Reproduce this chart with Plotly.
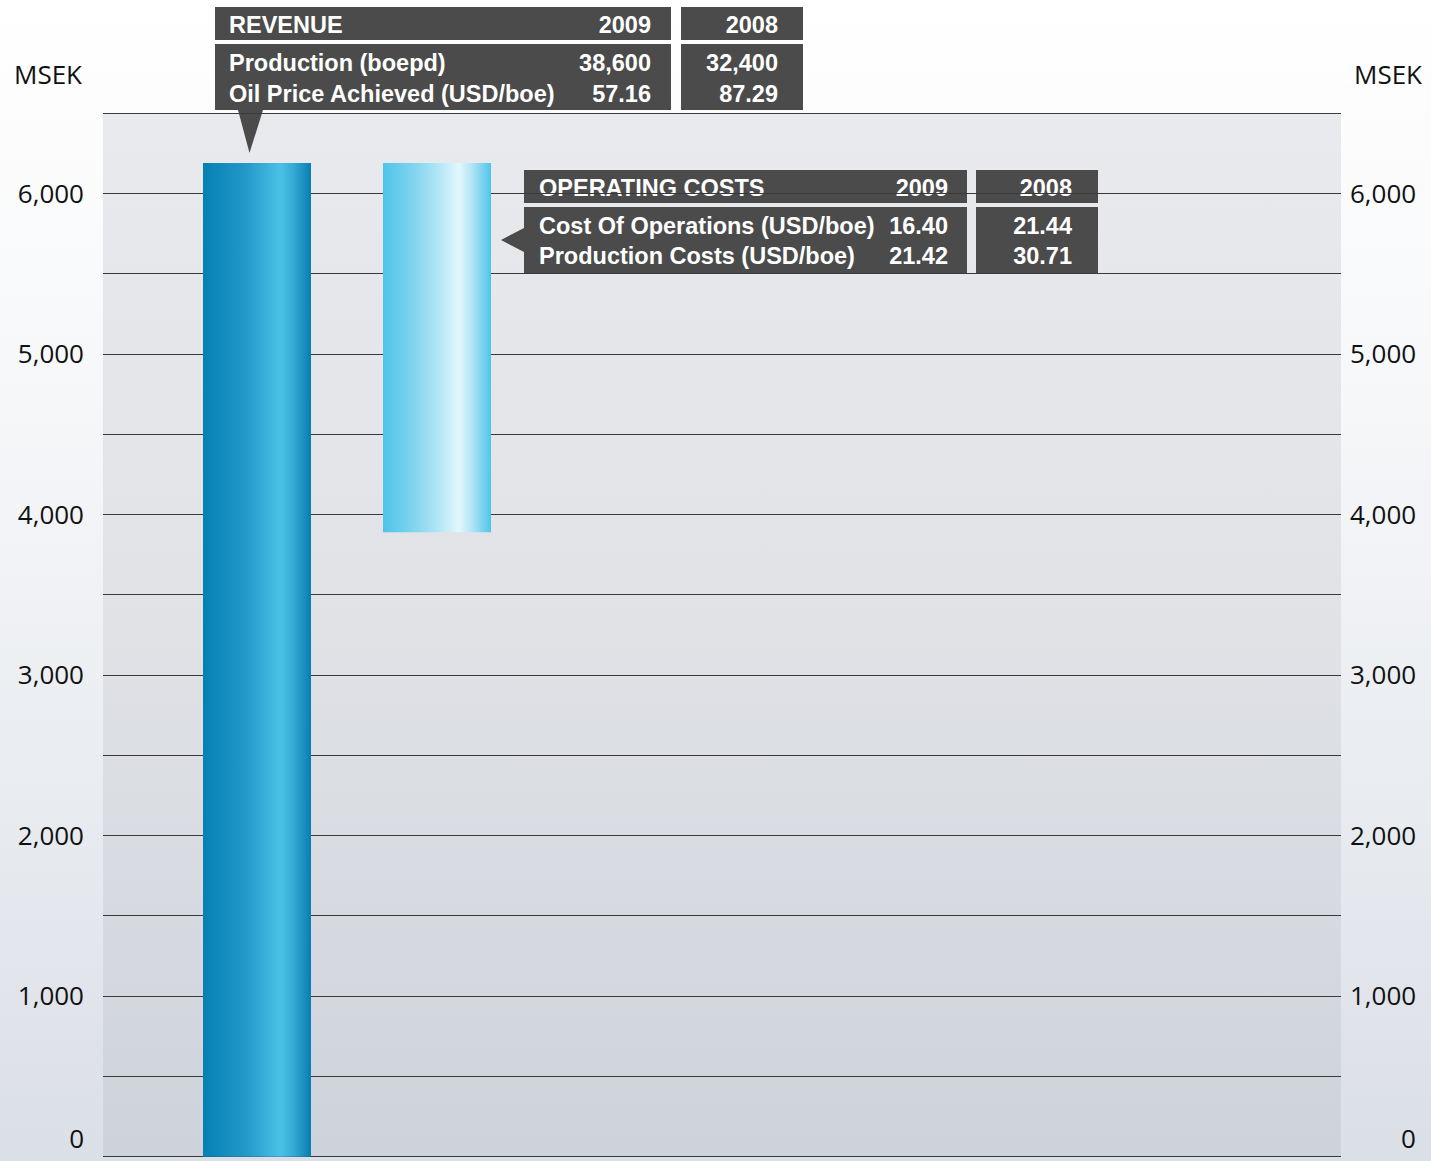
import plotly.graph_objects as go

W, H = 1431, 1161

# ---- data -------------------------------------------------------------
categories = ["Revenue", "Operating costs"]
revenue_msek = 6190
operating_costs_msek = 2300

y_ticks = list(range(0, 6501, 500))
# the baseline label is drawn separately so that it sits on top of the bottom line
y_labels = [f"{v:,}" if v % 1000 == 0 and 0 < v <= 6000 else "" for v in y_ticks]
base_tick = [0]
base_label = ["0"]

years = ["2009", "2008"]
revenue_rows = ["Production (boepd)", "Oil Price Achieved (USD/boe)"]
revenue_2009 = ["38,600", "57.16"]
revenue_2008 = ["32,400", "87.29"]
opcost_rows = ["Cost Of Operations (USD/boe)", "Production Costs (USD/boe)"]
opcost_2009 = ["16.40", "21.42"]
opcost_2008 = ["21.44", "30.71"]

# waterfall: each step starts where the previous one ended
bar_bottoms = [0, revenue_msek - operating_costs_msek]
bar_tops = [revenue_msek, revenue_msek]

# ---- layout geometry (page pixels) -----------------------------------
PLOT_L, PLOT_R, PLOT_T, PLOT_B = 103, 1341, 113.3, 1156.7
Y_MIN, Y_MAX = -16, 6516         # a little beyond 0..6500 so both edge grid lines render
BAR_W = 0.6
X_LEFT = -154 / 180
X_RIGHT = X_LEFT + (PLOT_R - PLOT_L) / 180

BOX = "#4b4b4b"
WHITE_BOLD = dict(family="Liberation Sans, Arial, sans-serif", size=23.5, color="white", weight="bold")
AXIS_FONT = dict(family="Open Sans, sans-serif", size=26, color="#111111")

fig = go.Figure()

# ---- background layer (page coordinates, subplot x/y) ----------------
def poly(xs, ys, **kw):
    fig.add_trace(go.Scatter(x=xs + [xs[0]], y=ys + [ys[0]], mode="lines", fill="toself",
                             line=dict(width=0), hoverinfo="skip", showlegend=False,
                             xaxis="x", yaxis="y", **kw))

def rect(x0, y0, x1, y1, color):
    poly([x0, x1, x1, x0], [y0, y0, y1, y1], fillcolor=color)

# page gradient (scale runs bottom -> top)
poly([0, W, W, 0], [0, 0, H, H],
     fillgradient=dict(type="vertical",
                       colorscale=[[0, "#dbdfe6"], [0.35, "#eaedf1"], [0.65, "#f6f7f9"], [1, "#ffffff"]]))
# plot-area gradient (scale runs bottom -> top)
poly([PLOT_L, PLOT_R, PLOT_R, PLOT_L], [PLOT_T, PLOT_T, PLOT_B, PLOT_B],
     fillgradient=dict(type="vertical",
                       colorscale=[[0, "#ced2da"], [0.5, "#e0e2e6"], [1, "#e9eaed"]]))

# revenue info table
rect(215, 7, 671, 40, BOX)
rect(681, 7, 803, 40, BOX)
rect(215, 44, 671, 110, BOX)
rect(681, 44, 803, 110, BOX)
poly([238, 263, 249.5], [110, 110, 153], fillcolor=BOX)

# operating-costs info table
rect(524, 170, 967, 203, BOX)
rect(976, 170, 1098, 203, BOX)
rect(524, 207, 967, 273, BOX)
rect(976, 207, 1098, 273, BOX)
poly([524, 524, 501], [228, 252, 240], fillcolor=BOX)

def txt(x, y, s, pos):
    fig.add_trace(go.Scatter(x=x, y=y, text=s, mode="text", textposition=pos,
                             textfont=WHITE_BOLD, hoverinfo="skip", showlegend=False,
                             cliponaxis=False, xaxis="x", yaxis="y"))

# revenue table text
txt([229], [27], ["REVENUE"], "middle right")
txt([651, 778], [27, 27], years, "middle left")
txt([229, 229], [65, 96], revenue_rows, "middle right")
txt([651, 651], [65, 96], revenue_2009, "middle left")
txt([778, 778], [65, 96], revenue_2008, "middle left")

# operating-costs table text
txt([539], [190], ["OPERATING COSTS"], "middle right")
txt([948, 1072], [190, 190], years, "middle left")
txt([539, 539], [228, 258], opcost_rows, "middle right")
txt([948, 948], [228, 258], opcost_2009, "middle left")
txt([1072, 1072], [228, 258], opcost_2008, "middle left")

# ---- waterfall bars (data coordinates, subplot x2/y2) ----------------
bar_scales = [
    [[0, "#0580b2"], [0.4, "#2399c9"], [0.72, "#4ac2e7"], [0.84, "#34a9d5"], [1, "#0a7db0"]],
    [[0, "#4ec4ea"], [0.28, "#80d4ef"], [0.53, "#b6e7f6"], [0.70, "#e3f7fc"], [0.82, "#b3e5f5"], [1, "#50c4ea"]],
]
for i, name in enumerate(categories):
    x0, x1 = i - BAR_W / 2, i + BAR_W / 2
    b, t = bar_bottoms[i], bar_tops[i]
    fig.add_trace(go.Scatter(
        x=[x0, x1, x1, x0, x0], y=[b, b, t, t, b], mode="lines", fill="toself",
        line=dict(width=0), fillgradient=dict(type="horizontal", colorscale=bar_scales[i]),
        name=name, hoverinfo="name", showlegend=False, xaxis="x2", yaxis="y2"))

# invisible traces so the overlaying label axes are rendered
for ax in ["y3", "y4", "y5"]:
    fig.add_trace(go.Scatter(x=[0], y=[0], mode="markers", marker=dict(opacity=0),
                             hoverinfo="skip", showlegend=False, xaxis="x2", yaxis=ax))

# domain padded so that 0..6500 still lands on PLOT_B..PLOT_T
px_per_unit = (PLOT_B - PLOT_T) / 6500
yd = [1 - (PLOT_B - Y_MIN * px_per_unit) / H, 1 - (PLOT_T - (Y_MAX - 6500) * px_per_unit) / H]
xd = [PLOT_L / W, PLOT_R / W]

label_axis = dict(overlaying="y2", range=[Y_MIN, Y_MAX], anchor="x2",
                  showgrid=False, zeroline=False, showline=False, ticks="",
                  tickfont=AXIS_FONT, tickmode="array")

fig.update_layout(
    width=W, height=H,
    margin=dict(l=0, r=0, t=0, b=0),
    paper_bgcolor="white",
    plot_bgcolor="rgba(0,0,0,0)",
    xaxis=dict(domain=[0, 1], range=[0, W], visible=False, fixedrange=True),
    yaxis=dict(domain=[0, 1], range=[H, 0], visible=False, fixedrange=True),
    xaxis2=dict(domain=xd, range=[X_LEFT, X_RIGHT], visible=False, anchor="y2"),
    yaxis2=dict(domain=yd, range=[Y_MIN, Y_MAX], anchor="x2",
                tickmode="array", tickvals=y_ticks, ticktext=y_labels,
                showgrid=True, gridcolor="#3a3a3a", gridwidth=1.4,
                zeroline=False, showline=False, ticks="",
                tickfont=AXIS_FONT, ticklabelstandoff=18),
    yaxis3=dict(label_axis, side="right", tickvals=y_ticks, ticktext=y_labels,
                ticklabelstandoff=8),
    yaxis4=dict(label_axis, side="left", tickvals=base_tick, ticktext=base_label,
                ticklabelposition="outside top", ticklabelstandoff=18),
    # right-hand baseline label lines up with the right edge of the wider labels
    yaxis5=dict(label_axis, side="right", tickvals=base_tick, ticktext=base_label,
                ticklabelposition="outside top", ticklabelstandoff=59),
    annotations=[
        dict(text="MSEK", x=48, y=74, xref="x", yref="y", showarrow=False,
             font=AXIS_FONT, xanchor="center", yanchor="middle"),
        dict(text="MSEK", x=1388, y=74, xref="x", yref="y", showarrow=False,
             font=AXIS_FONT, xanchor="center", yanchor="middle"),
    ],
)

fig.write_html("out.html")
